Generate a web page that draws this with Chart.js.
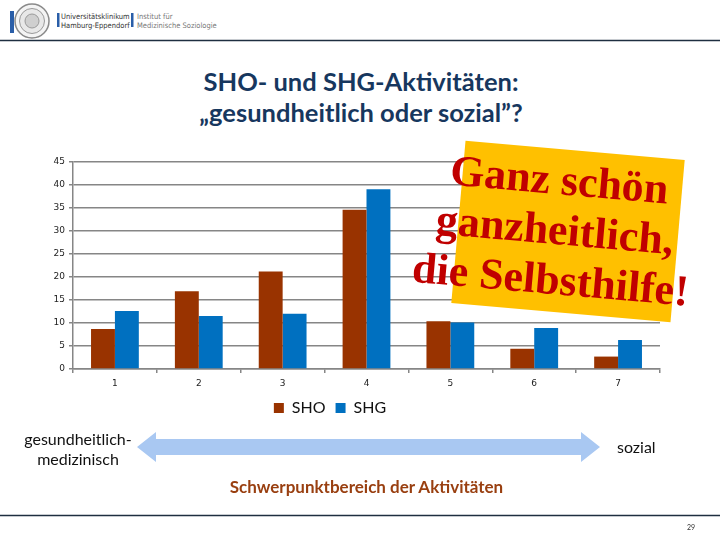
<!DOCTYPE html>
<html>
<head>
<meta charset="utf-8">
<script src="https://cdn.jsdelivr.net/npm/chart.js@4.4.1/dist/chart.umd.min.js"></script>
<style>
  html, body { margin:0; padding:0; background:#fff; }
  body { width:720px; height:540px; position:relative; overflow:hidden; font-family: Lato, "Open Sans", sans-serif; }
  .abs { position:absolute; white-space:nowrap; }
  #chartWrap { position:absolute; left:0; top:150px; width:720px; height:276px; }
  .title { left:0; width:722px; text-align:center; font-weight:bold; font-size:25.5px; color:#17375E; line-height:31px; }
  .note { font-size:16px; color:#111; line-height:20px; }
  #box { left:458px; top:149.5px; width:220px; height:163px; background:#FFC000; transform:rotate(5deg); }
  #boxText { left:400px; top:155px; width:310px; text-align:center; transform:rotate(5deg);
             font-family:"Liberation Serif","DejaVu Serif",serif; font-weight:bold; font-size:44px; line-height:50px; color:#C00000; }
  .logo { font-family: "DejaVu Sans Condensed", "Liberation Sans Narrow", sans-serif; font-size:7.5px; line-height:9px; font-weight:normal; }
</style>
</head>
<body>
<!-- header -->
<svg class="abs" style="left:0;top:0" width="720" height="44">
  <rect x="10" y="11" width="4" height="22" fill="#2A5EA8"/>
  <circle cx="32" cy="21" r="17" fill="#f4f4f4" stroke="#8a8a8a" stroke-width="1.5"/>
  <circle cx="32" cy="21" r="12.5" fill="#e8e8e8" stroke="#9a9a9a" stroke-width="1"/>
  <circle cx="32" cy="21" r="7" fill="#cfcfcf" stroke="#9a9a9a" stroke-width="1"/>
  <rect x="57" y="13" width="2.5" height="14" fill="#2A5EA8"/>
  <rect x="131" y="13" width="2.5" height="14" fill="#2A5EA8"/>
  <line x1="0" y1="40.5" x2="720" y2="40.5" stroke="#1E2E40" stroke-width="1.5"/>
</svg>
<div class="abs logo" style="left:61px;top:12px;color:#333;">Universitätsklinikum<br>Hamburg-Eppendorf</div>
<div class="abs logo" style="left:137px;top:12px;color:#777;">Institut für<br>Medizinische Soziologie</div>

<!-- title -->
<div class="abs title" style="top:66px;">SHO- und SHG-Aktivitäten:</div>
<div class="abs title" style="top:97px;">„gesundheitlich oder sozial”?</div>

<div id="chartWrap"><canvas id="c" width="720" height="276"></canvas></div>

<!-- overlay box -->
<div id="box" class="abs"></div>
<div id="boxText" class="abs">Ganz schön<br>ganzheitlich,<br>die Selbsthilfe!</div>

<!-- bottom arrow -->
<svg class="abs" style="left:0;top:420px" width="720" height="60">
  <polygon points="137,27 156,12 156,19 581,19 581,12 600,27 581,42 581,35 156,35 156,42" fill="#A9C8F2"/>
</svg>
<div class="abs note" style="left:16px;top:429px;text-align:center;width:124px;">gesundheitlich-<br>medizinisch</div>
<div class="abs note" style="left:617px;top:437px;">sozial</div>
<div class="abs" style="left:0;width:733px;text-align:center;top:476px;font-size:17px;font-weight:bold;color:#993F10;">Schwerpunktbereich der Aktivitäten</div>

<svg class="abs" style="left:0;top:505px" width="720" height="20">
  <line x1="0" y1="10.5" x2="720" y2="10.5" stroke="#1E2E40" stroke-width="1.5"/>
</svg>
<div class="abs" style="left:687px;top:523px;font-size:7px;color:#333;">29</div>

<script>
const categories = ["1", "2", "3", "4", "5", "6", "7"];
const shoValues = [8.7, 16.9, 21.2, 34.6, 10.4, 4.4, 2.7];
const shgValues = [12.6, 11.5, 12.0, 39.1, 10.1, 8.9, 6.3];
const seriesNames = ["SHO", "SHG"];
const yTicks = [0, 5, 10, 15, 20, 25, 30, 35, 40, 45];

const gridColor = "#868686";

new Chart(document.getElementById("c"), {
  type: "bar",
  data: {
    labels: categories,
    datasets: [
      { label: seriesNames[0], data: shoValues, backgroundColor: "#993300", borderWidth: 0 },
      { label: seriesNames[1], data: shgValues, backgroundColor: "#0070C0", borderWidth: 0 }
    ]
  },
  options: {
    responsive: false,
    animation: false,
    devicePixelRatio: 1,
    layout: { padding: { left: 0, right: 60, top: 12, bottom: 0 } },
    datasets: { bar: { categoryPercentage: 0.57, barPercentage: 1.0 } },
    plugins: {
      tooltip: { enabled: false },
      legend: {
        position: "bottom",
        labels: {
          boxWidth: 10, boxHeight: 10, padding: 10,
          color: "#111",
          font: { family: "Lato", size: 16 }
        }
      }
    },
    scales: {
      x: {
        offset: true,
        grid: { display: true, offset: true, drawOnChartArea: false, drawTicks: true, tickLength: 4, color: gridColor, lineWidth: 1.5 },
        border: { display: true, color: gridColor, width: 1.5 },
        ticks: { color: "#222", padding: 5, font: { family: "DejaVu Sans", size: 9 } },
        afterFit: (s) => { s.height = 21; }
      },
      y: {
        min: 0, max: 45,
        afterBuildTicks: (s) => { s.ticks = yTicks.map(v => ({ value: v })); },
        grid: { color: gridColor, lineWidth: 1.5, drawTicks: true, tickLength: 4 },
        border: { display: true, color: gridColor, width: 1.5 },
        ticks: { color: "#222", padding: 4, font: { family: "DejaVu Sans", size: 9 } },
        afterFit: (s) => { s.width = 73; }
      }
    }
  }
});
</script>
</body>
</html>
